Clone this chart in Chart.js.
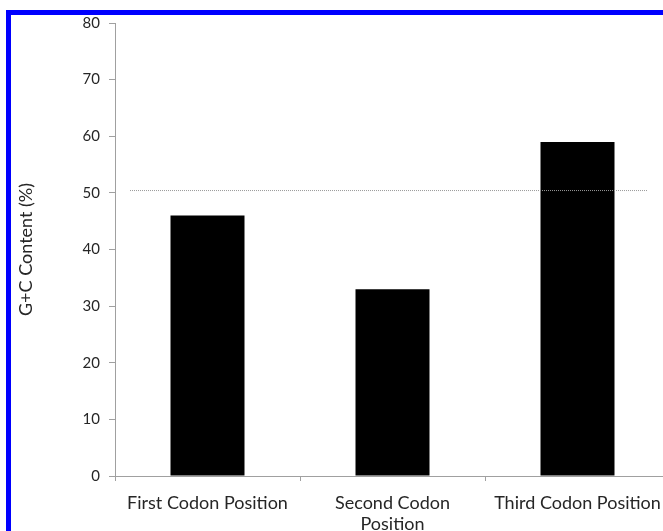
<!DOCTYPE html>
<html>
<head>
<meta charset="utf-8">
<script src="https://cdn.jsdelivr.net/npm/chart.js@4/dist/chart.umd.min.js"></script>
<style>
  html, body { margin: 0; padding: 0; background: #fff; overflow: hidden; width: 663px; height: 531px; }
  #wrap { position: absolute; left: 0; top: 0; width: 690px; height: 531px; }
  #frame { position: absolute; left: 6px; top: 10px; width: 700px; height: 540px;
           border-left: 5px solid #0000ff; border-top: 5px solid #0000ff; pointer-events: none; }
</style>
</head>
<body>
<div id="wrap"><canvas id="c" width="690" height="531"></canvas></div>
<div id="frame"></div>
<script>
const categories = ["First Codon Position", ["Second Codon", "Position"], "Third Codon Position"];
const gcContent = [46, 33, 59];
const referenceLine = [50.5];
const yTicks = [0, 10, 20, 30, 40, 50, 60, 70, 80];

const refLinePlugin = {
  id: 'refLine',
  afterDatasetsDraw(chart) {
    const y = chart.scales.y.getPixelForValue(referenceLine[0]);
    const ctx = chart.ctx;
    ctx.save();
    ctx.strokeStyle = '#9a9a9a';
    ctx.lineWidth = 1;
    ctx.setLineDash([1, 1]);
    ctx.beginPath();
    ctx.moveTo(chart.chartArea.left + 15, y + 0.5);
    ctx.lineTo(chart.chartArea.right - 22, y + 0.5);
    ctx.stroke();
    ctx.restore();
  }
};

new Chart(document.getElementById('c'), {
  type: 'bar',
  data: {
    labels: categories,
    datasets: [{
      data: gcContent,
      backgroundColor: '#000000',
      borderColor: '#000000',
      borderWidth: 0,
      barPercentage: 0.4,
      categoryPercentage: 1.0
    }]
  },
  options: {
    responsive: false,
    animation: false,
    events: [],
    layout: { padding: { left: 15, top: 23, right: 20, bottom: 0 } },
    plugins: { legend: { display: false }, tooltip: { enabled: false } },
    scales: {
      x: {
        grid: { display: true, drawOnChartArea: false, drawTicks: true, tickLength: 5, color: '#a0a0a0', offset: true },
        border: { display: true, color: '#a0a0a0' },
        ticks: { color: '#262626', font: { family: 'Lato', size: 18 }, maxRotation: 0, autoSkip: false, padding: 11 },
        afterFit(s) { s.height = 55; }
      },
      y: {
        min: 0, max: 80,
        afterBuildTicks(s) { s.ticks = yTicks.map(v => ({ value: v })); },
        grid: { display: true, drawOnChartArea: false, drawTicks: true, tickLength: 6, color: '#a0a0a0' },
        border: { display: true, color: '#a0a0a0' },
        ticks: { color: '#262626', font: { family: 'Lato', size: 15 }, padding: 9 },
        title: { display: true, text: 'G+C Content (%)', color: '#262626', font: { family: 'Lato', size: 18 }, padding: 0 },
        afterFit(s) { s.width = 100; }
      }
    }
  },
  plugins: [refLinePlugin]
});
</script>
</body>
</html>
